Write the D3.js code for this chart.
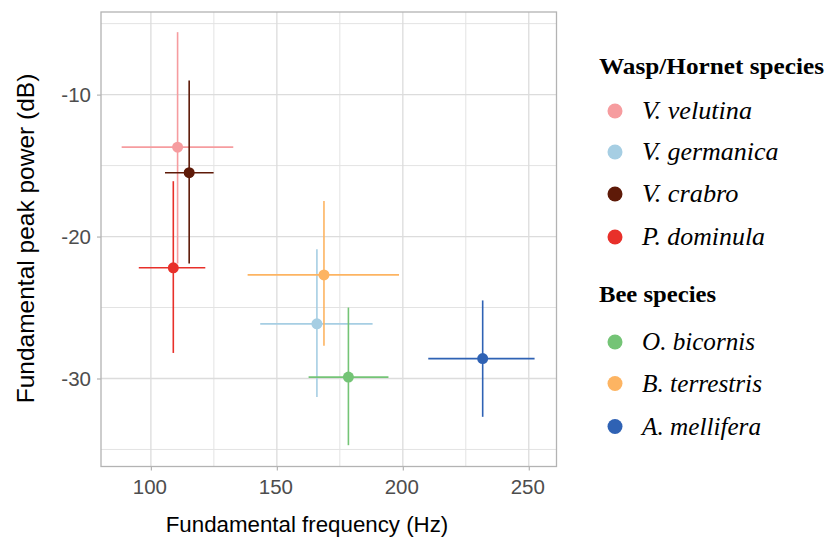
<!DOCTYPE html>
<html><head><meta charset="utf-8">
<script src="https://cdn.jsdelivr.net/npm/d3@7"></script>
<style>body{margin:0;background:#fff;} svg{display:block;}</style>
</head><body>
<svg id="c" width="827" height="546"></svg>
<script>
const species = ["V. velutina","V. germanica","V. crabro","P. dominula","O. bicornis","B. terrestris","A. mellifera"];
const groups = ["Wasp/Hornet species","Wasp/Hornet species","Wasp/Hornet species","Wasp/Hornet species","Bee species","Bee species","Bee species"];
const freq = [110.6, 165.9, 115.2, 108.9, 178.4, 168.7, 231.7];
const freqLo = [88.4, 143.4, 105.6, 95.2, 162.6, 138.4, 210.1];
const freqHi = [132.7, 188.0, 124.9, 121.6, 194.3, 198.5, 252.3];
const power = [-13.7, -26.15, -15.5, -22.2, -29.9, -22.7, -28.6];
const powerLo = [-21.9, -31.3, -21.9, -28.2, -34.7, -27.7, -32.7];
const powerHi = [-5.6, -20.9, -9.0, -16.1, -25.0, -17.5, -24.5];
const colors = ["#F69C9F","#A6CEE3","#5E1A08","#E8302A","#74C476","#FDB462","#2F62B4"];
const xTicks = [100,150,200,250];
const yTicks = [-10,-20,-30];
const xMinor = [125,175,225];
const yMinor = [-5,-15,-25,-35];
const legendGroups = ["Wasp/Hornet species","Bee species"];

const svg = d3.select("#c");
const L=101, R=556.5, T=12, B=466.5;
const x = d3.scaleLinear().domain([80.2, 261]).range([L, R]);
const y = d3.scaleLinear().domain([-36.2, -4.18]).range([B, T]);

const g = svg.append("g");
g.selectAll(".gxm").data(xMinor).enter().append("line")
  .attr("x1",d=>x(d)).attr("x2",d=>x(d)).attr("y1",T).attr("y2",B)
  .attr("stroke","#e3e3e3").attr("stroke-width",1);
g.selectAll(".gym").data(yMinor).enter().append("line")
  .attr("y1",d=>y(d)).attr("y2",d=>y(d)).attr("x1",L).attr("x2",R)
  .attr("stroke","#e3e3e3").attr("stroke-width",1);
g.selectAll(".gx").data(xTicks).enter().append("line")
  .attr("x1",d=>x(d)).attr("x2",d=>x(d)).attr("y1",T).attr("y2",B)
  .attr("stroke","#dcdcdc").attr("stroke-width",1.3);
g.selectAll(".gy").data(yTicks).enter().append("line")
  .attr("y1",d=>y(d)).attr("y2",d=>y(d)).attr("x1",L).attr("x2",R)
  .attr("stroke","#dcdcdc").attr("stroke-width",1.3);

const xAxis = d3.axisBottom(x).tickValues(xTicks).tickSize(4).tickPadding(9).tickFormat(d3.format("d"));
const yAxis = d3.axisLeft(y).tickValues(yTicks).tickSize(4).tickPadding(6).tickFormat(d=>String(d));
const xa = svg.append("g").attr("transform",`translate(0,${B})`).call(xAxis);
const ya = svg.append("g").attr("transform",`translate(${L},0)`).call(yAxis);
[xa,ya].forEach(a=>{
  a.select(".domain").remove();
  a.selectAll(".tick line").attr("stroke","#b3b3b3").attr("stroke-width",1.2);
  a.selectAll(".tick text").attr("fill","#4d4d4d").attr("font-family","Liberation Sans, Arial, sans-serif").attr("font-size","20.5px");
});
xa.selectAll(".tick text").attr("dx","-1.5");

svg.append("rect").attr("x",L).attr("y",T).attr("width",R-L).attr("height",B-T)
  .attr("fill","none").attr("stroke","#b3b3b3").attr("stroke-width",1.3);

const data = species.map((s,i)=>({s, g:groups[i], f:freq[i], fl:freqLo[i], fh:freqHi[i], p:power[i], pl:powerLo[i], ph:powerHi[i], c:colors[i]}));
const order = [0,2,3,1,5,4,6];
const dg = svg.append("g");
order.forEach(i=>{
  const d=data[i];
  dg.append("line").attr("x1",x(d.fl)).attr("x2",x(d.fh)).attr("y1",y(d.p)).attr("y2",y(d.p))
    .attr("stroke",d.c).attr("stroke-width",1.6);
  dg.append("line").attr("x1",x(d.f)).attr("x2",x(d.f)).attr("y1",y(d.pl)).attr("y2",y(d.ph))
    .attr("stroke",d.c).attr("stroke-width",1.6);
});
order.forEach(i=>{
  const d=data[i];
  dg.append("circle").attr("cx",x(d.f)).attr("cy",y(d.p)).attr("r",5.5).attr("fill",d.c);
});

svg.append("text").attr("x",307).attr("y",532).attr("text-anchor","middle")
  .attr("font-family","Liberation Sans, Arial, sans-serif").attr("font-size","22.3px").attr("fill","#000")
  .text("Fundamental frequency (Hz)");
svg.append("text").attr("transform",`translate(34,${(70+407)/2}) rotate(-90)`).attr("text-anchor","middle")
  .attr("font-family","Liberation Sans, Arial, sans-serif").attr("font-size","24.5px").attr("fill","#000")
  .text("Fundamental peak power (dB)");

const lg = svg.append("g");
const titleY = [73.5, 302];
const titleW = [225, 117];
const itemY = [[111,152,194,237],[342,383.5,426.5]];
const labelW = {"V. velutina":110,"V. germanica":136.5,"V. crabro":96.5,"P. dominula":123,"O. bicornis":113,"B. terrestris":120,"A. mellifera":119};
legendGroups.forEach((grp,gi)=>{
  lg.append("text").attr("x",599).attr("y",titleY[gi]).attr("font-family","Liberation Serif, Times New Roman, serif")
    .attr("font-weight","bold").attr("font-size","23px").attr("fill","#000")
    .attr("textLength",titleW[gi]).attr("lengthAdjust","spacingAndGlyphs").text(grp);
  const items = data.filter(d=>d.g===grp);
  items.forEach((d,k)=>{
    const yy = itemY[gi][k];
    lg.append("circle").attr("cx",615).attr("cy",yy).attr("r",7.5).attr("fill",d.c);
    lg.append("text").attr("x",642).attr("y",yy+8).attr("font-family","Liberation Serif, Times New Roman, serif")
      .attr("font-style","italic").attr("font-size","24.5px").attr("fill","#000")
      .attr("textLength",labelW[d.s]).attr("lengthAdjust","spacingAndGlyphs").text(d.s);
  });
});
</script>
</body></html>
